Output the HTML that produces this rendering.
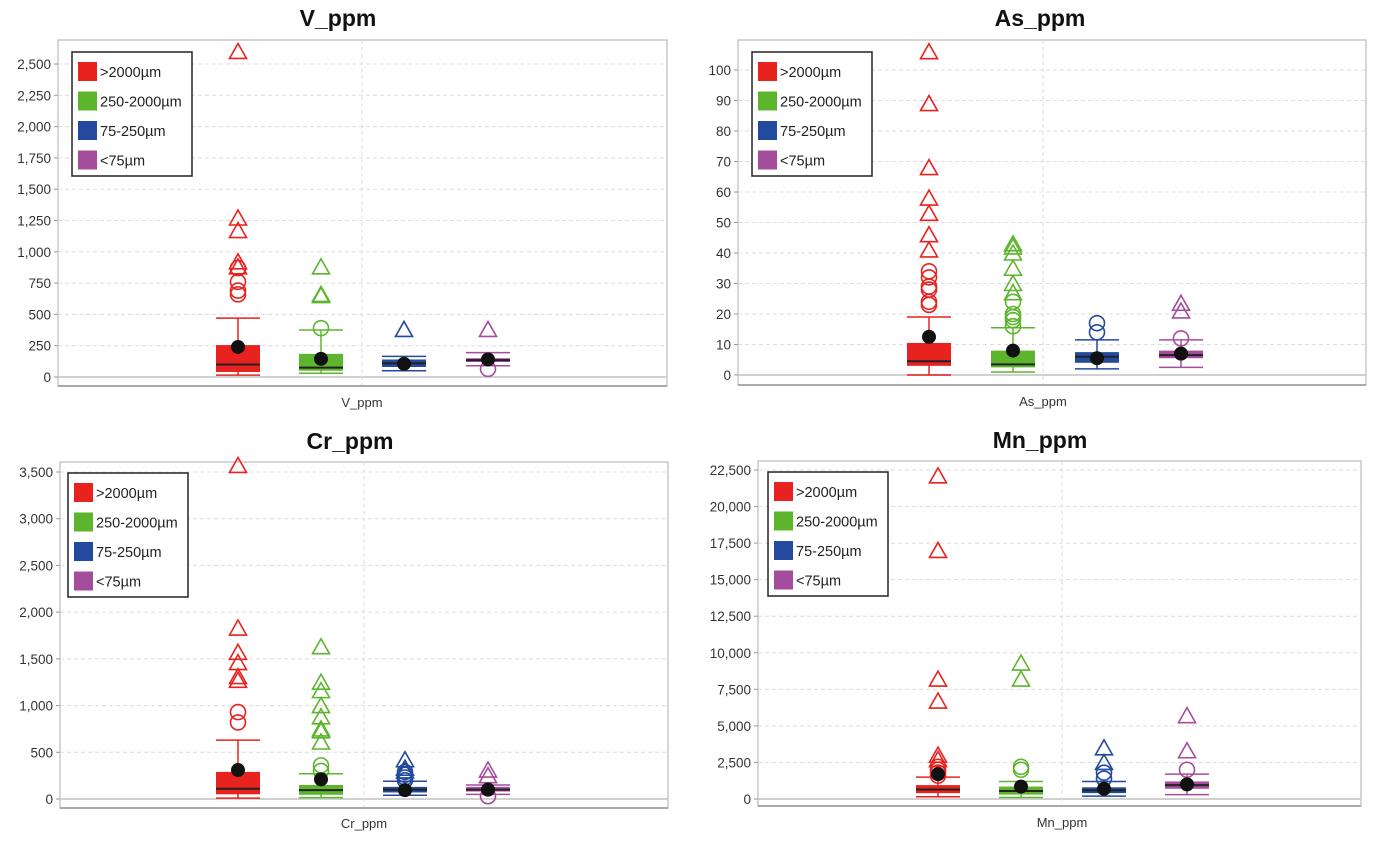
<!DOCTYPE html>
<html><head><meta charset="utf-8"><style>
body{margin:0;background:#fff;width:1378px;height:843px;overflow:hidden}
svg{display:block}
text{font-family:"Liberation Sans",sans-serif}
</style></head><body>
<svg id="c" width="1378" height="843"></svg>
<script>
const groups = [">2000µm","250-2000µm","75-250µm","<75µm"];
const colors = ["#e8221f","#5db52d","#234a9c","#a44d9c"];
// per group: [low whisker, q1, median, q3, high whisker, mean]
const vStats = [[15,40,100,255,470,240],[30,50,75,185,375,145],[50,80,110,140,165,105],[90,120,135,150,195,140]];
const vCircles = [[660,690,760,870],[390],[],[65]];
const vTri = [[2600,1270,1170,920,880],[880,660,650],[380],[380]];
const vTicks = [0,250,500,750,1000,1250,1500,1750,2000,2250,2500];
const asStats = [[0,3,4.5,10.5,19,12.5],[1,2.5,3.5,8,15.5,8],[2,4,6,7.5,11.5,5.5],[2.5,5.5,6.5,8,11.5,7]];
const asCircles = [[23,24,28,29,32,34],[16,18,19,20,24],[14,17],[12]];
const asTri = [[106,89,68,58,53,46,41],[43,42,40,35,30,27],[],[21,23.5]];
const asTicks = [0,10,20,30,40,50,60,70,80,90,100];
const crStats = [[10,50,110,290,630,310],[15,45,95,150,270,210],[40,70,100,130,190,95],[50,80,100,130,150,100]];
const crCircles = [[820,930],[300,360],[200,230,260,290],[30]];
const crTri = [[3570,1830,1570,1460,1310,1270],[1630,1250,1160,1000,880,750,730,610],[420,330,300],[310,250]];
const crTicks = [0,500,1000,1500,2000,2500,3000,3500];
const mnStats = [[150,400,650,950,1500,1700],[100,300,550,850,1200,850],[200,400,600,800,1200,700],[300,700,950,1200,1700,1000]];
const mnCircles = [[1600,1800,2000,2200],[2000,2200],[1400,1800],[2000]];
const mnTri = [[22100,17000,8200,6700,3000,2700],[9300,8200],[3500,2500],[5700,3300]];
const mnTicks = [0,2500,5000,7500,10000,12500,15000,17500,20000,22500];

const panels = [
 {name:"V_ppm",slug:"v",L:58,R:667,T:40,B:386,y0:377,yTop:64,vTop:2500,cx:[238,321,404,488],grid:362,title:[338,18],xl:402,leg:[72,52],stats:vStats,circ:vCircles,tri:vTri,ticks:vTicks},
 {name:"As_ppm",slug:"as",L:738,R:1366,T:40,B:385,y0:375,yTop:70,vTop:100,cx:[929,1013,1097,1181],grid:1043,title:[1040,18],xl:401,leg:[752,52],stats:asStats,circ:asCircles,tri:asTri,ticks:asTicks},
 {name:"Cr_ppm",slug:"cr",L:60,R:668,T:462,B:808,y0:799,yTop:472,vTop:3500,cx:[238,321,405,488],grid:364,title:[350,441],xl:823,leg:[68,473],stats:crStats,circ:crCircles,tri:crTri,ticks:crTicks},
 {name:"Mn_ppm",slug:"mn",L:758,R:1361,T:461,B:806,y0:799,yTop:470,vTop:22500,cx:[938,1021,1104,1187],grid:1062,title:[1040,440],xl:822,leg:[768,472],stats:mnStats,circ:mnCircles,tri:mnTri,ticks:mnTicks}
];
const NS="http://www.w3.org/2000/svg";
const svg=document.getElementById('c');
function mk(tag,attrs,parent){const e=document.createElementNS(NS,tag);for(const k in attrs)e.setAttribute(k,attrs[k]);(parent||svg).appendChild(e);return e;}
panels.forEach(p=>{
  const g=mk('g',{});
  
  
  const y=v=>p.y0-(v/p.vTop)*(p.y0-p.yTop);
  const t=mk('text',{x:p.title[0],y:p.title[1]+8,'text-anchor':'middle','font-size':'23','font-weight':'bold',fill:'#111'},g);
  t.textContent=p.name;
  
  
  mk('rect',{x:p.L,y:p.T,width:p.R-p.L,height:p.B-p.T,fill:'#fff',stroke:'#c8c8c8','stroke-width':1.5},g);
  p.ticks.forEach(v=>{
    mk('line',{x1:p.L,x2:p.R,y1:y(v),y2:y(v),stroke:v===0?'#d0d0d0':'#dcdcdc','stroke-width':v===0?2:1,'stroke-dasharray':v===0?'':'4,3'},g);
    mk('line',{x1:p.L-4,x2:p.L,y1:y(v),y2:y(v),stroke:'#999'},g);
    const tl=mk('text',{x:p.L-7,y:y(v)+5,'text-anchor':'end','font-size':'13.5',fill:'#333'},g);
    tl.textContent=v.toLocaleString('en-US');
    
    
  });
  mk('line',{x1:p.grid,x2:p.grid,y1:p.T,y2:p.B,stroke:'#dcdcdc','stroke-dasharray':'4,3'},g);
  mk('line',{x1:p.L,x2:p.R,y1:p.B,y2:p.B,stroke:'#aaa','stroke-width':2},g);
  const xl=mk('text',{x:p.grid,y:p.xl+5,'text-anchor':'middle','font-size':'13',fill:'#333'},g);
  xl.textContent=p.name;
  
  
  const hw=22;
  p.stats.forEach((s,i)=>{
    const c=colors[i],x=p.cx[i];
    const bg=mk('g',{},g);
    
    
    mk('line',{x1:x,x2:x,y1:y(s[0]),y2:y(s[4]),stroke:c,'stroke-width':1.5},bg);
    mk('line',{x1:x-hw,x2:x+hw,y1:y(s[0]),y2:y(s[0]),stroke:c,'stroke-width':1.5},bg);
    mk('line',{x1:x-hw,x2:x+hw,y1:y(s[4]),y2:y(s[4]),stroke:c,'stroke-width':1.5},bg);
    mk('rect',{x:x-hw,y:y(s[3]),width:2*hw,height:Math.max(2,y(s[1])-y(s[3])),fill:c},bg);
    mk('line',{x1:x-hw,x2:x+hw,y1:y(s[2]),y2:y(s[2]),stroke:'#222','stroke-width':2},bg);
    p.circ[i].forEach(v=>mk('circle',{cx:x,cy:y(v),r:7.5,fill:'none',stroke:c,'stroke-width':1.6},bg));
    p.tri[i].forEach(v=>{const yy=y(v);mk('polygon',{points:`${x},${yy-8} ${x-8.5},${yy+7} ${x+8.5},${yy+7}`,fill:'none',stroke:c,'stroke-width':1.6},bg);});
    const m=mk('circle',{cx:x,cy:y(s[5]),r:7,fill:'#111'},bg);
    
    
  });
  const lg=mk('g',{},g);
  
  
  mk('rect',{x:p.leg[0],y:p.leg[1],width:120,height:124,fill:'#fff',stroke:'#222','stroke-width':1.5},lg);
  groups.forEach((n,i)=>{
    const yy=p.leg[1]+10+i*29.5;
    mk('rect',{x:p.leg[0]+6,y:yy,width:19,height:19,fill:colors[i]},lg);
    const tt=mk('text',{x:p.leg[0]+28,y:yy+15,'font-size':'14.5',fill:'#222'},lg);
    tt.textContent=n;
    
    
  });
});
</script>
</body></html>
